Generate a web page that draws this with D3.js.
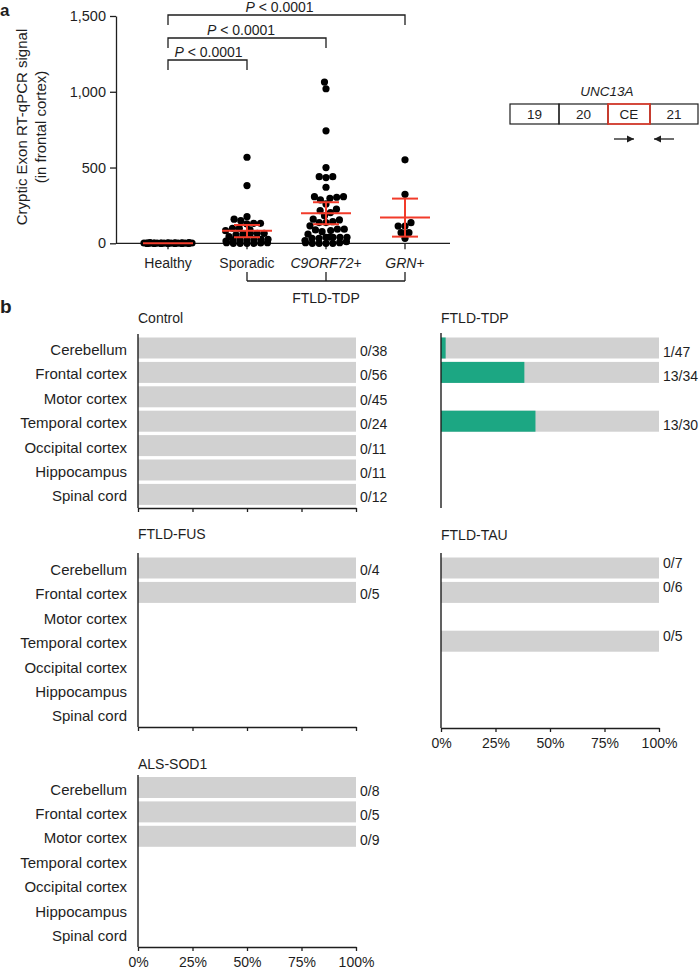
<!DOCTYPE html>
<html><head><meta charset="utf-8">
<script src="https://cdn.jsdelivr.net/npm/d3@7"></script>
<style>body{margin:0;background:#fff} svg{display:block;font-family:"Liberation Sans",Arial,Helvetica,sans-serif}</style>
</head><body><svg id="c" width="700" height="969"></svg>
<script>
// ---------- DATA: panel a ----------
const groups = ["Healthy", "Sporadic", "C9ORF72+", "GRN+"];
const healthyValues = [0,2,1,0,3,0,1,0,2,4,0,1,0,0,2,1,3,0,0,1,5,0,2,0,1,0,3,0,1,2];
const sporadicValues = [568,381,176,159,149,132,132,128,99,99,88,83,66,66,66,61,61,55,44,26,26,26,22,22,22,15,4,4,2,0,0,0,0];
const c9orf72Values = [1064,1020,742,500,440,440,434,370,308,308,304,297,286,260,225,216,203,181,159,154,143,137,137,115,93,93,88,84,77,60,40,40,40,40,40,33,33,18,11,4,4,0,0,0,0];
const grnValues = [551,323,136,114,114,70,70,33];
const medians = [0, 83, 198, 170];
const lowerBars = [0, 40, 126, 44];
const upperBars = [0, 121, 271, 295];
const yTicks = [0, 500, 1000, 1500];
const compareTo = ["Sporadic", "C9ORF72+", "GRN+"];
const pLabel = "< 0.0001";
const exons = ["19", "20", "CE", "21"];

// ---------- DATA: panel b ----------
const regions = ["Cerebellum","Frontal cortex","Motor cortex","Temporal cortex","Occipital cortex","Hippocampus","Spinal cord"];
const panelNames = ["Control","FTLD-TDP","FTLD-FUS","FTLD-TAU","ALS-SOD1"];
const controlPositive = [0,0,0,0,0,0,0];
const controlTotal    = [38,56,45,24,11,11,12];
const tdpPositive     = [1,13,null,13,null,null,null];
const tdpTotal        = [47,34,null,30,null,null,null];
const fusPositive     = [0,0,null,null,null,null,null];
const fusTotal        = [4,5,null,null,null,null,null];
const tauPositive     = [0,0,null,0,null,null,null];
const tauTotal        = [7,6,null,5,null,null,null];
const alsPositive     = [0,0,0,null,null,null,null];
const alsTotal        = [8,5,9,null,null,null,null];
const pctTicks = [0, 25, 50, 75, 100];

// ---------- STYLE ----------
const INK = "#1e1e1e", RED = "#f23b2a", GREY = "#d1d1d1", GREEN = "#1ca783";
const svg = d3.select("#c");

// ---------- Panel a ----------
svg.append("text").attr("x", 0).attr("y", 16).attr("font-size", 17).attr("font-weight", "bold").attr("fill", INK).text("a");

const x = d3.scalePoint().domain(groups).range([168, 405]);
const y = d3.scaleLinear().domain([0, 1500]).range([243.3, 16]);

const yAxis = svg.append("g").attr("transform", "translate(116,0)")
  .call(d3.axisLeft(y).tickValues(yTicks).tickFormat(d3.format(",")).tickSize(6).tickSizeOuter(0));
yAxis.selectAll("path,line").attr("stroke", INK).attr("stroke-width", 1.3);
yAxis.selectAll("text").attr("font-size", 14.5).attr("fill", INK).attr("font-family", null).attr("x", -10);

// y title
const yt = svg.append("text").attr("transform", "translate(27,127) rotate(-90)").attr("text-anchor", "middle")
  .attr("font-size", 15).attr("fill", INK);
yt.append("tspan").attr("x", 0).attr("dy", 0).text("Cryptic Exon RT-qPCR signal");
yt.append("tspan").attr("x", 0).attr("dy", 19).text("(in frontal cortex)");

// x axis line
svg.append("line").attr("x1", 116).attr("x2", 450).attr("y1", y(0)).attr("y2", y(0)).attr("stroke", INK).attr("stroke-width", 1.3);
groups.forEach(g => {
  svg.append("line").attr("x1", x(g)).attr("x2", x(g)).attr("y1", y(0)).attr("y2", y(0) + 6).attr("stroke", INK).attr("stroke-width", 1.3);
  const t = svg.append("text").attr("x", x(g)).attr("y", 268).attr("text-anchor", "middle").attr("font-size", 14).attr("fill", INK);
  if (g.endsWith("+")) {
    t.append("tspan").attr("font-style", "italic").text(g.slice(0, -1));
    t.append("tspan").text("+");
  } else t.text(g);
});

// FTLD-TDP bracket
const tdpGroups = groups.slice(1);
svg.append("line").attr("x1", x(tdpGroups[0])).attr("x2", x(tdpGroups[2])).attr("y1", 281).attr("y2", 281).attr("stroke", INK).attr("stroke-width", 1.3);
tdpGroups.forEach(g => svg.append("line").attr("x1", x(g)).attr("x2", x(g)).attr("y1", 272).attr("y2", 281).attr("stroke", INK).attr("stroke-width", 1.3));
svg.append("text").attr("x", x(tdpGroups[1])).attr("y", 303).attr("text-anchor", "middle").attr("font-size", 14).attr("fill", INK).text("FTLD-TDP");

// significance brackets
const bracketY = [60, 38, 15];
const labelShift = [1, -6, -7];
compareTo.forEach((g, i) => {
  const x1 = x(groups[0]), x2 = x(g), by = bracketY[i];
  svg.append("path").attr("d", `M${x1},${by + 10}V${by}H${x2}V${by + 10}`).attr("fill", "none").attr("stroke", INK).attr("stroke-width", 1.3);
  const t = svg.append("text").attr("x", (x1 + x2) / 2 + labelShift[i]).attr("y", by - 3.5).attr("text-anchor", "middle").attr("font-size", 14).attr("fill", INK);
  t.append("tspan").attr("font-style", "italic").text("P");
  t.append("tspan").text(" " + pLabel);
});

// beeswarm
const R = 3.6;
function swarm(values, maxW) {
  const pts = values.map(v => ({ v, y: y(v), x: 0 }));
  const order = pts.slice().sort((a, b) => b.y - a.y);
  const placed = [];
  const fallback = [-21, -14, -7, 0, 7, 14, 21, -18, -11, -4, 3, 10, 17, 24, -24];
  let ov = 0;
  const d = 2 * R * 0.95;
  order.forEach(p => {
    const blocks = placed.filter(q => Math.abs(q.y - p.y) < d).map(q => {
      const dx = Math.sqrt(d * d - (q.y - p.y) ** 2);
      return [q.x - dx, q.x + dx];
    });
    const cands = [0];
    blocks.forEach(b => cands.push(b[0], b[1]));
    cands.sort((a, b) => Math.abs(a) - Math.abs(b));
    let found = null;
    for (const c of cands) {
      if (Math.abs(c) <= maxW && blocks.every(b => c <= b[0] + 1e-6 || c >= b[1] - 1e-6)) { found = c; break; }
    }
    if (found === null) found = fallback[ov++ % fallback.length];
    p.x = found;
    placed.push(p);
  });
  return pts;
}
const seriesValues = [healthyValues, sporadicValues, c9orf72Values, grnValues];
const maxWs = [22, 22, 23, 22];
seriesValues.forEach((vals, i) => {
  const pts = swarm(vals, maxWs[i]);
  svg.append("g").selectAll("circle").data(pts).join("circle")
    .attr("cx", d => x(groups[i]) + d.x).attr("cy", d => d.y).attr("r", R).attr("fill", "#000");
});

// median + error bars
groups.forEach((g, i) => {
  const gx = x(g);
  const gg = svg.append("g").attr("stroke", RED).attr("stroke-width", 2).attr("fill", "none");
  gg.append("line").attr("x1", gx - 25).attr("x2", gx + 25).attr("y1", y(medians[i])).attr("y2", y(medians[i]));
  if (upperBars[i] > lowerBars[i]) {
    gg.append("line").attr("x1", gx).attr("x2", gx).attr("y1", y(lowerBars[i])).attr("y2", y(upperBars[i]));
    gg.append("line").attr("x1", gx - 13).attr("x2", gx + 13).attr("y1", y(lowerBars[i])).attr("y2", y(lowerBars[i]));
    gg.append("line").attr("x1", gx - 13).attr("x2", gx + 13).attr("y1", y(upperBars[i])).attr("y2", y(upperBars[i]));
  }
});

// gene diagram
const exonLen = [49, 49, 42, 48];
const starts = [510, ...d3.cumsum(exonLen).map(v => 510 + v)];
svg.append("text").attr("x", 607).attr("y", 96).attr("text-anchor", "middle").attr("font-size", 13.5).attr("font-style", "italic").attr("fill", INK).text("UNC13A");
exons.forEach((e, i) => {
  svg.append("rect").attr("x", starts[i]).attr("y", 104).attr("width", exonLen[i]).attr("height", 20)
    .attr("fill", "none").attr("stroke", INK).attr("stroke-width", 1.2);
  svg.append("text").attr("x", starts[i] + exonLen[i] / 2).attr("y", 119).attr("text-anchor", "middle").attr("font-size", 13.5).attr("fill", INK).text(e);
});
const ci = exons.indexOf("CE");
svg.append("rect").attr("x", starts[ci]).attr("y", 104).attr("width", exonLen[ci]).attr("height", 20)
  .attr("fill", "none").attr("stroke", RED).attr("stroke-width", 1.5);
function arrow(xa, xb, ay) {
  svg.append("line").attr("x1", xa).attr("x2", xb).attr("y1", ay).attr("y2", ay).attr("stroke", INK).attr("stroke-width", 1.3);
  const s = Math.sign(xb - xa);
  svg.append("path").attr("d", `M${xb},${ay}L${xb - s * 7},${ay - 3.5}L${xb - s * 7},${ay + 3.5}Z`).attr("fill", INK);
}
arrow(614, 634, 139);
arrow(674, 654, 139);

// ---------- Panel b ----------
svg.append("text").attr("x", 0).attr("y", 313).attr("font-size", 19).attr("font-weight", "bold").attr("fill", INK).text("b");

const panels = [
  { name: panelNames[0], pos: controlPositive, tot: controlTotal, x0: 138, titleY: 323, axisTop: 334, rowTop: 335.8, axisBottom: 508, rowLabels: true, tickLabels: false, lblDy: 8 },
  { name: panelNames[1], pos: tdpPositive, tot: tdpTotal, x0: 441, titleY: 323, axisTop: 333, rowTop: 335.8, axisBottom: 508, rowLabels: false, tickLabels: false, lblDy: 8.5, noTicks: true },
  { name: panelNames[2], pos: fusPositive, tot: fusTotal, x0: 138, titleY: 539, axisTop: 553, rowTop: 555.8, axisBottom: 727, rowLabels: true, tickLabels: false, lblDy: 7 },
  { name: panelNames[3], pos: tauPositive, tot: tauTotal, x0: 441, titleY: 540, axisTop: 553, rowTop: 555.8, axisBottom: 728, rowLabels: false, tickLabels: true, lblDy: 0 },
  { name: panelNames[4], pos: alsPositive, tot: alsTotal, x0: 138, titleY: 769, axisTop: 775, rowTop: 775.3, axisBottom: 947, rowLabels: true, tickLabels: true, lblDy: 8.5 }
];
const STEP = 24.4, BW = 21;
panels.forEach(p => {
  const xs = d3.scaleLinear().domain([0, 100]).range([p.x0, p.x0 + 218]);
  const ys = d3.scaleBand().domain(regions).range([p.rowTop, p.rowTop + STEP * regions.length])
    .paddingInner(1 - BW / STEP).paddingOuter((1 - BW / STEP) / 2);
  const g = svg.append("g");
  g.append("text").attr("x", p.x0).attr("y", p.titleY).attr("font-size", 14).attr("fill", INK).text(p.name);
  const rows = regions.map((r, i) => ({ r, pos: p.pos[i], tot: p.tot[i] })).filter(d => d.tot !== null);
  g.selectAll("rect.bg").data(rows).join("rect").attr("class", "bg")
    .attr("x", xs(0)).attr("y", d => ys(d.r)).attr("width", xs(100) - xs(0)).attr("height", ys.bandwidth()).attr("fill", GREY);
  g.selectAll("rect.fg").data(rows.filter(d => d.pos > 0)).join("rect").attr("class", "fg")
    .attr("x", xs(0)).attr("y", d => ys(d.r)).attr("width", d => xs(100 * d.pos / d.tot) - xs(0)).attr("height", ys.bandwidth()).attr("fill", GREEN);
  g.selectAll("text.cnt").data(rows).join("text").attr("class", "cnt")
    .attr("x", xs(100) + 4).attr("y", d => ys(d.r) + ys.bandwidth() / 2 + p.lblDy)
    .attr("font-size", 14).attr("fill", INK).text(d => `${d.pos}/${d.tot}`);
  if (p.rowLabels) {
    g.selectAll("text.rl").data(regions).join("text").attr("class", "rl")
      .attr("x", 127).attr("y", d => ys(d) + ys.bandwidth() / 2 + 7).attr("text-anchor", "end")
      .attr("font-size", 15).attr("fill", INK).text(d => d);
  }
  g.append("line").attr("x1", xs(0)).attr("x2", xs(0)).attr("y1", p.axisTop).attr("y2", p.axisBottom).attr("stroke", INK).attr("stroke-width", 1.4);
  if (!p.noTicks) {
    const ax = g.append("g").attr("transform", `translate(0,${p.axisBottom})`)
      .call(d3.axisBottom(xs).tickValues(pctTicks).tickSize(4).tickSizeOuter(0).tickFormat(d => p.tickLabels ? d + "%" : ""));
    ax.selectAll("path,line").attr("stroke", INK).attr("stroke-width", 1.3);
    ax.selectAll("text").attr("font-size", 14).attr("fill", INK).attr("font-family", null).attr("dy", "0.95em");
  }
});
</script></body></html>
